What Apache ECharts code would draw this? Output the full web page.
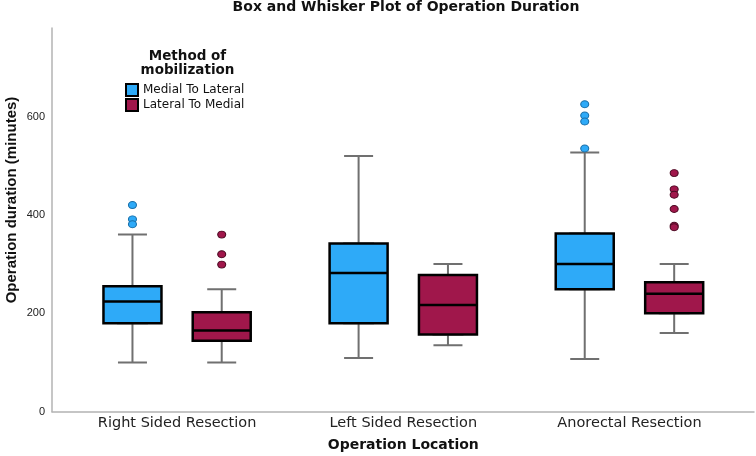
<!DOCTYPE html>
<html><head><meta charset="utf-8">
<script src="https://cdn.jsdelivr.net/npm/echarts@6/dist/echarts.min.js"></script>
<style>html,body{margin:0;padding:0;background:#fff}#c{width:756px;height:456px}</style>
</head><body><div id="c"></div>
<script>
const categories = ['Right Sided Resection', 'Left Sided Resection', 'Anorectal Resection'];
const seriesNames = ['Medial To Lateral', 'Lateral To Medial'];
// [min, Q1, median, Q3, max]
const medialToLateral = [[100, 180, 224, 255, 360], [109, 180, 282, 342, 520], [107, 249, 300, 362, 527]];
const lateralToMedial = [[100, 144, 165, 202, 249], [135, 157, 217, 278, 300], [160, 200, 240, 263, 300]];
// outliers: [category index, value]
const medialOutliers = [[0, 420], [0, 391], [0, 381], [2, 625], [2, 602], [2, 590], [2, 535]];
const lateralOutliers = [[0, 360], [0, 320], [0, 299], [2, 485], [2, 452], [2, 441], [2, 412], [2, 378], [2, 375]];
const yTicks = [0, 200, 400, 600];
const yMax = 780;

const BLUE = '#2eaaf8', RED = '#a0174b';
const FONT = 'Liberation Sans, Arial, sans-serif';
const DV = 'DejaVu Sans, sans-serif';
const boxOnly = d => d.map(r => [r[1], r[1], r[2], r[3], r[3]]);

const chart = echarts.init(document.getElementById('c'), null, { renderer: 'canvas' });
const grids = [
  { left: 52, width: 702, top: 28, height: 383.7, outerBoundsMode: 'none', containLabel: false },
  { left: 64, width: 678.6, top: 28, height: 383.7, outerBoundsMode: 'none', containLabel: false },
  { left: 19.4, width: 678.4, top: 28, height: 383.7, outerBoundsMode: 'none', containLabel: false },
  { left: 108.6, width: 678.7, top: 28, height: 383.7, outerBoundsMode: 'none', containLabel: false }
];
const hiddenCat = gi => ({ type: 'category', gridIndex: gi, data: categories, show: false });
const hiddenY = gi => ({ type: 'value', gridIndex: gi, min: 0, max: yMax, show: false });
chart.setOption({
  animation: false,
  backgroundColor: '#fff',
  title: [
    { text: 'Box and Whisker Plot of Operation Duration', left: 406, top: 0, padding: 0, textAlign: 'center',
      textStyle: { fontFamily: DV, fontSize: 14, fontWeight: 'bold', color: '#111' } },
    { text: 'Method of\nmobilization', left: 187.5, top: 50, padding: 0, textAlign: 'center',
      textStyle: { fontFamily: DV, fontSize: 13.5, fontWeight: 'bold', color: '#111', lineHeight: 13.5 } }
  ],
  legend: {
    data: [
      { name: seriesNames[0], itemStyle: { color: BLUE, borderColor: '#000', borderWidth: 2 } },
      { name: seriesNames[1], itemStyle: { color: RED, borderColor: '#000', borderWidth: 2 } }
    ],
    orient: 'vertical', left: 125, top: 83, padding: 0,
    itemWidth: 12, itemHeight: 12, itemGap: 1, icon: 'rect', selectedMode: false,
    textStyle: { fontFamily: DV, fontSize: 12, color: '#111' }
  },
  grid: grids,
  xAxis: [
    { type: 'value', gridIndex: 0, min: 0, max: 1,
      axisLine: { show: true, lineStyle: { color: '#b3b3b3', width: 1.5 } },
      axisTick: { show: false }, axisLabel: { show: false }, splitLine: { show: false } },
    { type: 'category', gridIndex: 1, data: categories,
      axisLine: { show: false }, axisTick: { show: false },
      axisLabel: { margin: 4, fontFamily: DV, fontSize: 14.5, color: '#222' },
      name: 'Operation Location', nameLocation: 'middle', nameGap: 27,
      nameTextStyle: { fontFamily: DV, fontSize: 14, fontWeight: 'bold', color: '#111' } },
    hiddenCat(2), hiddenCat(2), hiddenCat(3), hiddenCat(3)
  ],
  yAxis: [
    { type: 'value', gridIndex: 0, min: 0, max: yMax, interval: 200,
      axisLine: { show: true, lineStyle: { color: '#b3b3b3', width: 1.5 } },
      axisTick: { show: false }, splitLine: { show: false },
      axisLabel: { margin: 7, showMaxLabel: false, fontFamily: FONT, fontSize: 11, color: '#222',
        formatter: v => (yTicks.indexOf(v) >= 0 ? String(v) : '') } },
    hiddenY(1), hiddenY(2), hiddenY(3)
  ],
  graphic: [
    { type: 'text', x: 12, y: 200, rotation: Math.PI / 2,
      style: { text: 'Operation duration (minutes)', fill: '#111', font: 'bold 15px ' + FONT,
        textAlign: 'center', textVerticalAlign: 'middle' } }
  ],
  series: [
    { name: 'w1', type: 'boxplot', xAxisIndex: 2, yAxisIndex: 2, data: medialToLateral, boxWidth: [29, 29],
      itemStyle: { color: BLUE, borderColor: '#707070', borderWidth: 2 }, emphasis: { disabled: true }, silent: true },
    { name: seriesNames[0], type: 'boxplot', xAxisIndex: 3, yAxisIndex: 2, data: boxOnly(medialToLateral), boxWidth: [58, 58],
      itemStyle: { color: BLUE, borderColor: '#000', borderWidth: 2.5 }, emphasis: { disabled: true }, silent: true },
    { name: 'w2', type: 'boxplot', xAxisIndex: 4, yAxisIndex: 3, data: lateralToMedial, boxWidth: [29, 29],
      itemStyle: { color: RED, borderColor: '#707070', borderWidth: 2 }, emphasis: { disabled: true }, silent: true },
    { name: seriesNames[1], type: 'boxplot', xAxisIndex: 5, yAxisIndex: 3, data: boxOnly(lateralToMedial), boxWidth: [58, 58],
      itemStyle: { color: RED, borderColor: '#000', borderWidth: 2.5 }, emphasis: { disabled: true }, silent: true },
    { name: 'o1', type: 'scatter', xAxisIndex: 2, yAxisIndex: 2, data: medialOutliers, symbol: 'circle', symbolSize: [8, 7],
      itemStyle: { color: BLUE, borderColor: '#1a6fa8', borderWidth: 1, opacity: 1 }, z: 5, silent: true },
    { name: 'o2', type: 'scatter', xAxisIndex: 4, yAxisIndex: 3, data: lateralOutliers, symbol: 'circle', symbolSize: [8, 7],
      itemStyle: { color: RED, borderColor: '#4a0a22', borderWidth: 1, opacity: 1 }, z: 5, silent: true }
  ]
});
</script></body></html>
